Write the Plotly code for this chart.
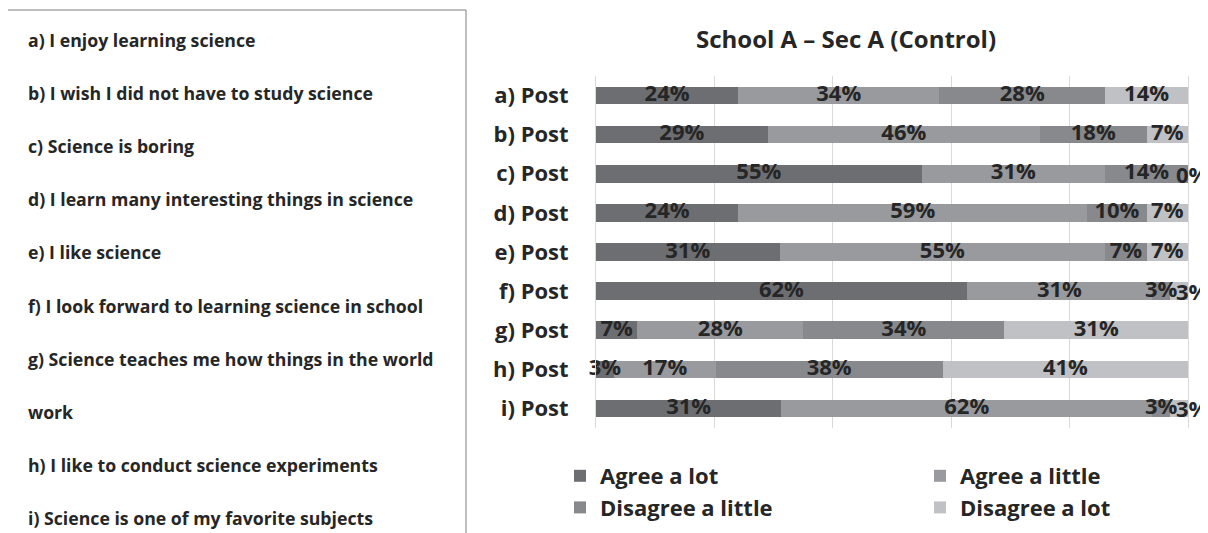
import plotly.graph_objects as go

# the page puts the figure 8px in from the top-left corner, so the
# figure is 8px smaller and reference pixel positions are shifted by OFF
OFF = 8
W, H = 1208 - OFF, 533 - OFF
M_L, M_R, M_T, M_B = 596 - OFF, 20, 76 - OFF, 105
PW, PH = W - M_L - M_R, H - M_T - M_B

TEXT_COLOR = "#262626"
FONT = "Open Sans"

items = ["a) Post", "b) Post", "c) Post", "d) Post", "e) Post",
         "f) Post", "g) Post", "h) Post", "i) Post"]

agree_lot = [24, 29, 55, 24, 31, 62, 7, 3, 31]
agree_little = [34, 46, 31, 59, 55, 31, 28, 17, 62]
disagree_little = [28, 18, 14, 10, 7, 3, 34, 38, 3]
disagree_lot = [14, 7, 0, 7, 7, 3, 31, 41, 3]

statements = [
    "a) I enjoy learning science",
    "b) I wish I did not have to study science",
    "c) Science is boring",
    "d) I learn many interesting things in science",
    "e) I like science",
    "f) I look forward to learning science in school",
    "g) Science teaches me how things in the world",
    "work",
    "h) I like to conduct science experiments",
    "i) Science is one of my favorite subjects",
]

series = [
    ("Agree a lot", agree_lot, "#6d6e71", "legend"),
    ("Agree a little", agree_little, "#999a9d", "legend2"),
    ("Disagree a little", disagree_little, "#88898c", "legend"),
    ("Disagree a lot", disagree_lot, "#c0c1c4", "legend2"),
]


def px_x(px):
    return (px - OFF - M_L) / PW


def px_y(py):
    return (H - M_B - (py - OFF)) / PH


label_font = dict(family=FONT, size=22, color=TEXT_COLOR, weight="bold")

fig = go.Figure()
for name, vals, color, leg in series:
    fig.add_trace(go.Bar(
        y=items, x=vals, name=name, orientation="h",
        marker=dict(color=color, line_width=0),
        legend=leg, hoverinfo="x+name",
    ))

# data labels drawn on top of all bars (like Excel does)
totals = [sum(r) for r in zip(agree_lot, agree_little, disagree_little, disagree_lot)]
cum = [0] * len(items)
for k, (name, vals, color, leg) in enumerate(series):
    last = k == len(series) - 1
    xs, ys, txt = [], [], []
    for i, v in enumerate(vals):
        end = (cum[i] + v) / totals[i] * 100
        if last and v <= 3:
            # tiny end segments: label sits just past the end of the bar
            fig.add_annotation(x=end, y=items[i], text=f"{v}%", xshift=4,
                               showarrow=False, font=label_font)
        else:
            xs.append((cum[i] + v / 2) / totals[i] * 100)
            ys.append(items[i])
            txt.append(f"{v}%")
        cum[i] += v
    fig.add_trace(go.Scatter(
        y=ys, x=xs, mode="text", text=txt,
        textposition="middle center", textfont=label_font,
        showlegend=False, hoverinfo="skip", cliponaxis=False,
    ))

# left text box with the statements
fig.add_shape(type="rect", xref="paper", yref="paper",
              x0=px_x(6), x1=px_x(466), y0=px_y(560), y1=px_y(10),
              line=dict(color="#7f7f7f", width=1), layer="above")
for i, s in enumerate(statements):
    fig.add_annotation(text=s, xref="paper", yref="paper",
                       x=px_x(26), y=px_y(40 + i * 53.1),
                       xanchor="left", yanchor="middle", showarrow=False,
                       font=dict(family=FONT, size=17.7, color=TEXT_COLOR, weight="bold"))

legend_style = dict(orientation="v", xanchor="left", yanchor="top",
                    bgcolor="rgba(0,0,0,0)", traceorder="normal",
                    font=dict(family=FONT, size=22, color=TEXT_COLOR, weight="bold"))

fig.update_layout(
    width=W, height=H,
    margin=dict(l=M_L, r=M_R, t=M_T, b=M_B, autoexpand=False),
    paper_bgcolor="white", plot_bgcolor="white",
    barmode="stack", barnorm="percent", bargap=0.55,
    title=dict(text="School A – Sec A (Control)", x=px_x(846), xref="paper",
               xanchor="center", y=1 - (40 - OFF) / H, yanchor="middle",
               font=dict(family=FONT, size=24, color=TEXT_COLOR, weight="bold")),
    xaxis=dict(range=[0, 100], dtick=20, showticklabels=False,
               showgrid=True, gridcolor="#d9d9d9", gridwidth=1, zeroline=False),
    yaxis=dict(autorange="reversed", ticklabelstandoff=22,
               showline=True, mirror=True, linecolor="#d9d9d9",
               tickfont=dict(family=FONT, size=22, color=TEXT_COLOR, weight="bold")),
    legend=dict(x=px_x(560), y=px_y(455), **legend_style),
    legend2=dict(x=px_x(920), y=px_y(455), **legend_style),
)

fig.write_html("out.html")
